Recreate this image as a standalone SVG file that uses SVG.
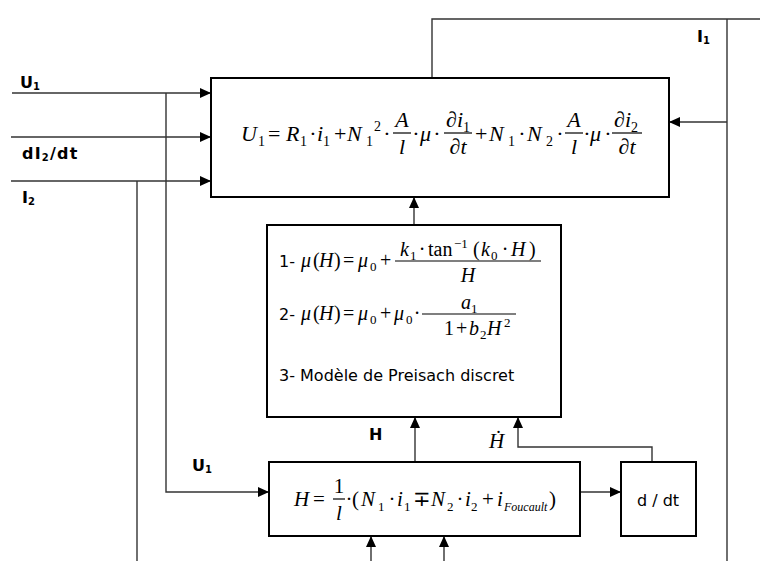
<svg xmlns="http://www.w3.org/2000/svg" width="760" height="561" viewBox="0 0 760 561">
<defs>
<marker id="ah" markerUnits="userSpaceOnUse" markerWidth="12" markerHeight="10" refX="11" refY="5" orient="auto">
<path d="M0,0 L11,5 L0,10 Z" fill="#000"/>
</marker>
<style>
.box{fill:#fff;stroke:#000;stroke-width:2}
.ln{fill:none;stroke:#333;stroke-width:1.4}
.arr{marker-end:url(#ah)}
.bar{stroke:#000;stroke-width:1.2}
.lbl{font-family:"DejaVu Sans",Verdana,sans-serif;font-weight:bold;font-size:16px;fill:#000}
.sb{font-size:10px}
.txt{font-family:"DejaVu Sans",Verdana,sans-serif;font-size:16px;fill:#000}
.mi{font-family:"Liberation Serif","Times New Roman",serif;font-style:italic;font-size:22px;fill:#000}
.mr{font-family:"Liberation Serif","Times New Roman",serif;font-size:22px;fill:#000}
.ms{font-family:"Liberation Serif","Times New Roman",serif;font-size:14px;fill:#000}
.ni{font-family:"Liberation Serif","Times New Roman",serif;font-style:italic;font-size:20px;fill:#000}
.nr{font-family:"Liberation Serif","Times New Roman",serif;font-size:20px;fill:#000}
.ns{font-family:"Liberation Serif","Times New Roman",serif;font-size:13px;fill:#000}
.bi{font-family:"Liberation Serif","Times New Roman",serif;font-style:italic;font-size:21px;fill:#000}
.br{font-family:"Liberation Serif","Times New Roman",serif;font-size:21px;fill:#000}
.bs{font-family:"Liberation Serif","Times New Roman",serif;font-size:13px;fill:#000}
.si{font-family:"Liberation Serif","Times New Roman",serif;font-style:italic;font-size:12px;fill:#000}
.hd{font-family:"Liberation Serif","DejaVu Serif","Times New Roman",serif;font-style:italic;font-size:21px;fill:#000}
</style>
</defs>

<g id="connectors">
<line class="ln arr" x1="12" y1="93" x2="211" y2="93"/>
<line class="ln arr" x1="11" y1="137" x2="211" y2="137"/>
<line class="ln arr" x1="11" y1="181" x2="211" y2="181"/>
<polyline class="ln arr" points="166,93 166,492 269,492"/>
<line class="ln" x1="137" y1="181" x2="137" y2="561"/>
<polyline class="ln" points="432,78 432,19 760,19"/>
<line class="ln" x1="727" y1="19" x2="727" y2="561"/>
<line class="ln arr" x1="727" y1="122" x2="669" y2="122"/>
<line class="ln arr" x1="414" y1="225" x2="414" y2="197"/>
<line class="ln arr" x1="415" y1="462" x2="415" y2="417"/>
<polyline class="ln arr" points="652,462 652,447 518,447 518,417"/>
<line class="ln arr" x1="577" y1="492" x2="621" y2="492"/>
<line class="ln arr" x1="371" y1="561" x2="371" y2="536"/>
<line class="ln arr" x1="444" y1="561" x2="444" y2="536"/>
</g>

<g id="labels">
<text class="lbl" x="20" y="88">U<tspan class="sb" dy="2">1</tspan></text>
<text class="lbl" x="22" y="159" letter-spacing="1.2">dI<tspan class="sb" dy="2">2</tspan><tspan dy="-2">/dt</tspan></text>
<text class="lbl" x="22" y="203">I<tspan class="sb" dy="2">2</tspan></text>
<text class="lbl" x="697" y="42">I<tspan class="sb" dy="2">1</tspan></text>
<text class="lbl" x="192" y="471">U<tspan class="sb" dy="2">1</tspan></text>
<text class="lbl" x="369" y="440">H</text>
<text class="hd" x="489" y="448">Ḣ</text>
</g>

<g id="equation-U1">
<rect class="box" x="211" y="78" width="458" height="119"/>
<text class="mi" x="241" y="141">U</text>
<text class="ms" x="258" y="146">1</text>
<text class="mr" x="268" y="141">=</text>
<text class="mi" x="286" y="141">R</text>
<text class="ms" x="300" y="146">1</text>
<text class="mr" x="313" y="141" text-anchor="middle">·</text>
<text class="mi" x="317" y="141">i</text>
<text class="ms" x="323" y="146">1</text>
<text class="mr" x="334" y="141">+</text>
<text class="mi" x="347" y="141">N</text>
<text class="ms" x="366" y="146">1</text>
<text class="ms" x="374" y="131">2</text>
<text class="mr" x="387" y="141" text-anchor="middle">·</text>
<text class="mi" x="402" y="127" text-anchor="middle">A</text>
<line class="bar" x1="393" y1="133" x2="411" y2="133"/>
<text class="mi" x="402" y="154" text-anchor="middle">l</text>
<text class="mr" x="416" y="141" text-anchor="middle">·</text>
<text class="mi" x="420" y="141">μ</text>
<text class="mr" x="437" y="141" text-anchor="middle">·</text>
<text class="mr" x="446" y="127">∂<tspan class="mi">i</tspan><tspan class="ms" dy="5">1</tspan></text>
<line class="bar" x1="444" y1="133" x2="472" y2="133"/>
<text class="mr" x="458" y="154" text-anchor="middle">∂<tspan class="mi">t</tspan></text>
<text class="mr" x="475" y="141">+</text>
<text class="mi" x="489" y="141">N</text>
<text class="ms" x="508" y="146">1</text>
<text class="mr" x="522" y="141" text-anchor="middle">·</text>
<text class="mi" x="527" y="141">N</text>
<text class="ms" x="546" y="146">2</text>
<text class="mr" x="560" y="141" text-anchor="middle">·</text>
<text class="mi" x="574" y="127" text-anchor="middle">A</text>
<line class="bar" x1="565" y1="133" x2="583" y2="133"/>
<text class="mi" x="574" y="154" text-anchor="middle">l</text>
<text class="mr" x="587" y="141" text-anchor="middle">·</text>
<text class="mi" x="590" y="141">μ</text>
<text class="mr" x="608" y="141" text-anchor="middle">·</text>
<text class="mr" x="614" y="127">∂<tspan class="mi">i</tspan><tspan class="ms" dy="5">2</tspan></text>
<line class="bar" x1="612" y1="133" x2="642" y2="133"/>
<text class="mr" x="627" y="154" text-anchor="middle">∂<tspan class="mi">t</tspan></text>
</g>

<g id="permeability-models">
<rect class="box" x="267" y="225" width="294" height="192"/>
<text class="txt" x="279" y="267">1-</text>
<text class="ni" x="301" y="267">μ</text>
<text class="nr" x="313" y="267">(</text>
<text class="ni" x="319" y="267">H</text>
<text class="nr" x="334" y="267">)</text>
<text class="nr" x="343" y="267">=</text>
<text class="ni" x="358" y="267">μ</text>
<text class="ns" x="370" y="271">0</text>
<text class="nr" x="380" y="267">+</text>
<text class="ni" x="400" y="256">k</text>
<text class="ns" x="410" y="260">1</text>
<text class="nr" x="422" y="256" text-anchor="middle">·</text>
<text class="nr" x="428" y="256">tan</text>
<text class="ns" x="454" y="248">−1</text>
<text class="nr" x="473" y="256">(</text>
<text class="ni" x="481" y="256">k</text>
<text class="ns" x="491" y="260">0</text>
<text class="nr" x="505" y="256" text-anchor="middle">·</text>
<text class="ni" x="511" y="256">H</text>
<text class="nr" x="529" y="256">)</text>
<line class="bar" x1="395" y1="261" x2="541" y2="261"/>
<text class="ni" x="468" y="282" text-anchor="middle">H</text>

<text class="txt" x="279" y="320">2-</text>
<text class="ni" x="301" y="320">μ</text>
<text class="nr" x="313" y="320">(</text>
<text class="ni" x="319" y="320">H</text>
<text class="nr" x="334" y="320">)</text>
<text class="nr" x="343" y="320">=</text>
<text class="ni" x="358" y="320">μ</text>
<text class="ns" x="370" y="324">0</text>
<text class="nr" x="380" y="320">+</text>
<text class="ni" x="394" y="320">μ</text>
<text class="ns" x="406" y="324">0</text>
<text class="nr" x="417" y="320" text-anchor="middle">·</text>
<text class="ni" x="461" y="309">a</text>
<text class="ns" x="471" y="313">1</text>
<line class="bar" x1="422" y1="314" x2="516" y2="314"/>
<text class="nr" x="444" y="335">1</text>
<text class="nr" x="456" y="335">+</text>
<text class="ni" x="469" y="335">b</text>
<text class="ns" x="480" y="339">2</text>
<text class="ni" x="487" y="335">H</text>
<text class="ns" x="504" y="327">2</text>

<text class="txt" x="279" y="381">3- Modèle de Preisach discret</text>
</g>

<g id="field-equation">
<rect class="box" x="269" y="462" width="311" height="74"/>
<text class="bi" x="294" y="506">H</text>
<text class="br" x="313" y="506">=</text>
<text class="br" x="339" y="493" text-anchor="middle">1</text>
<line class="bar" x1="333" y1="499" x2="345" y2="499"/>
<text class="bi" x="339" y="520" text-anchor="middle">l</text>
<text class="br" x="349" y="506" text-anchor="middle">·</text>
<text class="br" x="352" y="506">(</text>
<text class="bi" x="361" y="506">N</text>
<text class="bs" x="378" y="511">1</text>
<text class="br" x="392" y="506" text-anchor="middle">·</text>
<text class="bi" x="397" y="506">i</text>
<text class="bs" x="404" y="511">1</text>
<text class="br" x="413" y="506">∓</text>
<text class="bi" x="431" y="506">N</text>
<text class="bs" x="447" y="511">2</text>
<text class="br" x="460" y="506" text-anchor="middle">·</text>
<text class="bi" x="465" y="506">i</text>
<text class="bs" x="471" y="511">2</text>
<text class="br" x="482" y="506">+</text>
<text class="bi" x="497" y="506">i</text>
<text class="si" x="504" y="511">Foucault</text>
<text class="br" x="549" y="506">)</text>
</g>

<g id="derivative">
<rect class="box" x="621" y="462" width="75" height="74"/>
<text class="txt" x="658" y="506" text-anchor="middle">d / dt</text>
</g>
</svg>
